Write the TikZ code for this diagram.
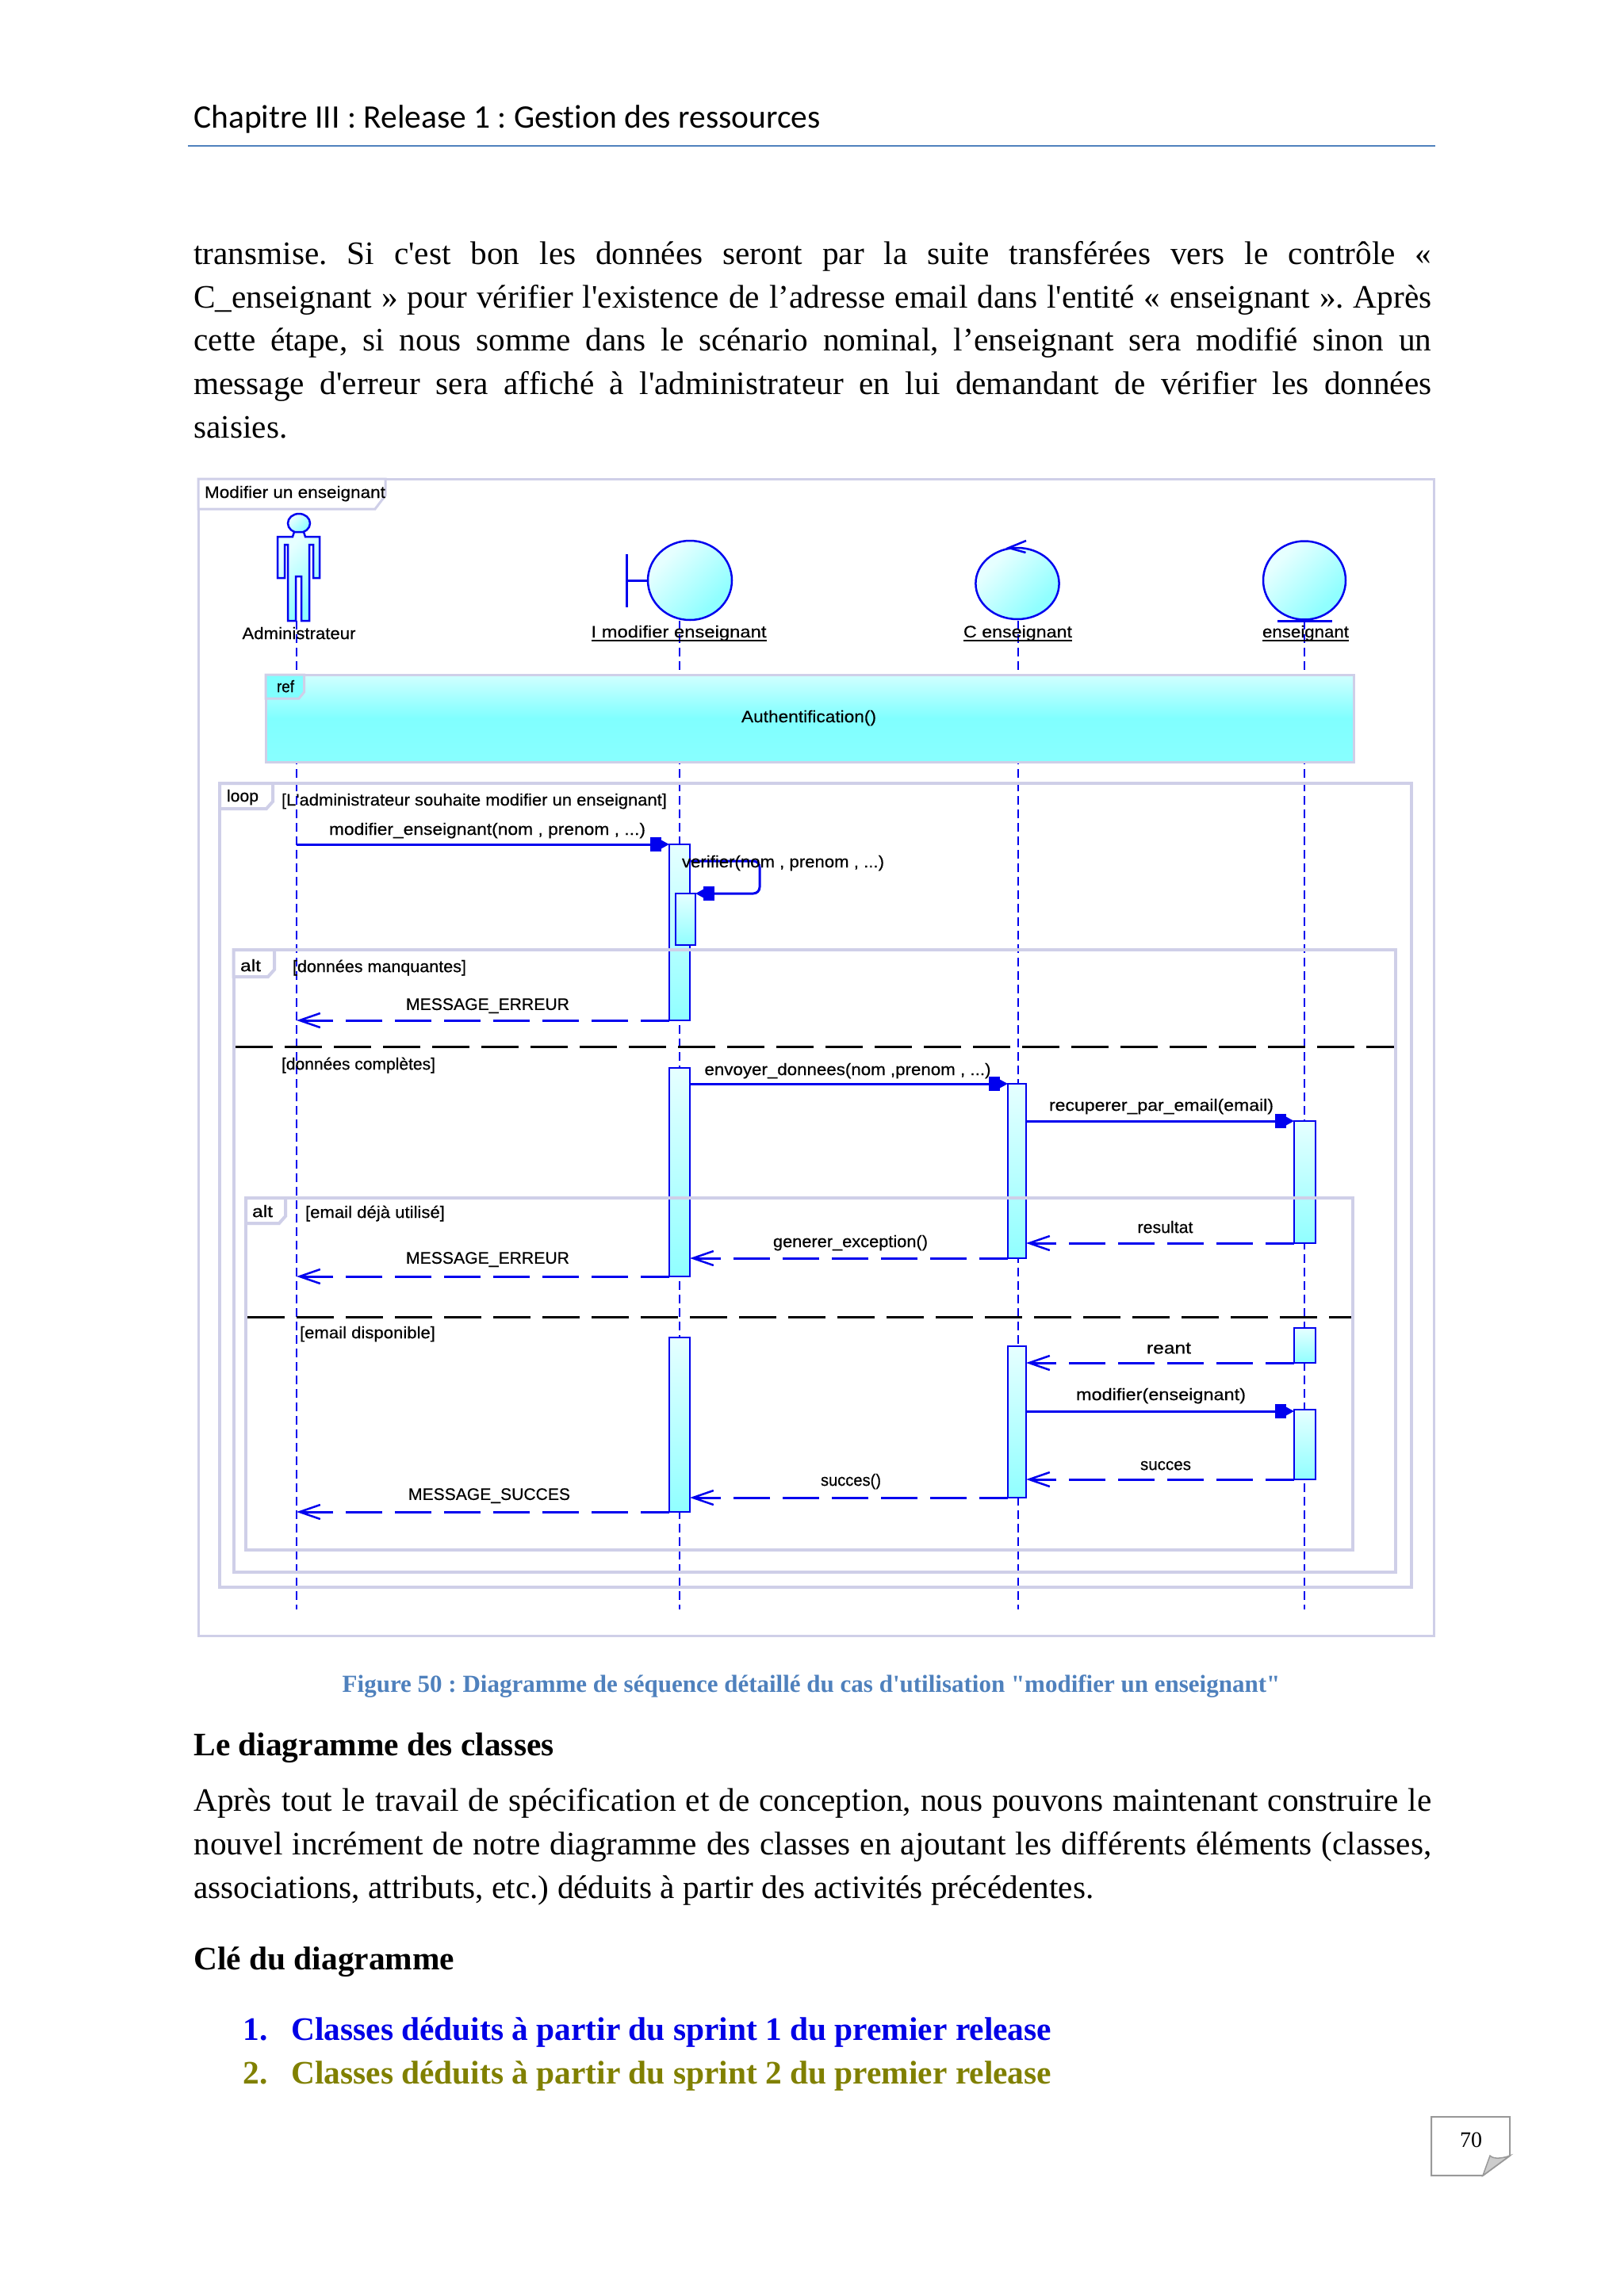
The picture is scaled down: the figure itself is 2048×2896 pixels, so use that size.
\documentclass[tikz,border=0pt]{standalone}
\usepackage{fontspec}
\usepackage{graphicx}
\usetikzlibrary{arrows.meta}
\setmainfont{Liberation Serif}[Ligatures={TeXOff,NoCommon}]
\newfontfamily\dfont{Liberation Sans}[Ligatures={TeXOff,NoCommon},FakeBold=0.4]
\newfontfamily\hfont{Carlito}[Ligatures={TeXOff,NoCommon}]
\frenchspacing
\newlength\px \setlength\px{0.5pt}
\definecolor{umlblue}{HTML}{0000EE}
\definecolor{framecol}{HTML}{CFCFE8}
\definecolor{capblue}{HTML}{4F81BD}
\definecolor{lightc}{HTML}{D2FFFF}
\definecolor{midc}{HTML}{A0FFFF}
\definecolor{deepc}{HTML}{80FFFF}
\definecolor{botc}{HTML}{88FFFF}
\definecolor{iconl}{HTML}{E6FFFF}
\definecolor{icond}{HTML}{90FFFF}
\definecolor{listblue}{HTML}{0000E6}
\definecolor{listolive}{HTML}{808000}
\pgfdeclareverticalshading{refshade}{100bp}{color(0bp)=(botc);color(25bp)=(botc);color(50bp)=(deepc);color(60bp)=(midc);color(75bp)=(lightc);color(100bp)=(lightc)}
\pgfdeclarehorizontalshading{iconshade}{100bp}{color(0bp)=(iconl);color(30bp)=(iconl);color(70bp)=(icond);color(100bp)=(icond)}
\tikzset{
  body/.style={anchor=base west,inner sep=0pt,font=\fontsize{20.64}{24}\selectfont},
  boldline/.style={anchor=base west,inner sep=0pt,font=\bfseries\fontsize{20.7}{24}\selectfont},
  dtext/.style={inner sep=0pt,text=black,yshift=-0.3pt,font=\dfont\fontsize{10.5}{12}\selectfont},
  lifeline/.style={draw=umlblue,line width=1pt,dash pattern=on 5.5pt off 3pt},
  activ/.style={draw=umlblue,line width=1.25pt,top color=iconl,bottom color=icond,inner sep=0pt,outer sep=0pt,anchor=north west},
  iconbody/.style={draw=umlblue,line width=1.25pt,shading=iconshade,shading angle=-45},
  fragment/.style={draw=framecol,line width=2pt,inner sep=0pt,outer sep=0pt,anchor=north west},
  tagbox/.style={draw=framecol,line width=2pt,fill=white},
  sync/.style={draw=umlblue,line width=1.5pt,-{Rectangle[length=7pt,width=9pt]Triangle[length=5pt,width=5pt]}},
  reply/.style={draw=umlblue,line width=1.5pt,dash pattern=on 23pt off 8pt,dash phase=5pt,-{Straight Barb[length=13pt,width=9pt,line width=1.25pt]}},
  sep/.style={draw=black,line width=1.5pt,dash pattern=on 23.5pt off 7.5pt},
}
\newcommand\dlabel[4]{\node[dtext] (#1) at (#2) {\resizebox{#3\px}{\height}{#4}};}
\newcommand\actbox[5]{\node[activ,minimum width={(#4-#2)*0.5pt},minimum height={(#5-#3)*0.5pt}] (#1) at (#2,#3) {};}
\newcommand\fragbox[5]{\node[fragment,minimum width={(#4-#2)*0.5pt},minimum height={(#5-#3)*0.5pt}] (#1) at (#2,#3) {};}
\newcommand\jline[3]{\node[body] (#1) at (244,#2) {\hbox to 780.5pt{#3}};}
\begin{document}
\begin{tikzpicture}[x=0.5pt,y=-0.5pt]
\useasboundingbox[fill=white] (0,0) rectangle (2048,2896);

% header
\node[anchor=base west,inner sep=0pt,font=\hfont\fontsize{20.75}{24}\selectfont] (header) at (244,161) {Chapitre III : Release 1 : Gestion des ressources};
\coordinate (ruleL) at (237,184); \coordinate (ruleR) at (1810,184);
\draw[capblue,line width=1pt] (ruleL) -- (ruleR);

% paragraph above
\jline{p1}{333}{transmise. Si c'est bon les données seront par la suite transférées vers le contrôle «}
\jline{p2}{388}{C\_enseignant » pour vérifier l'existence de l’adresse email dans l'entité « enseignant ». Après}
\jline{p3}{442}{cette étape, si nous somme dans le scénario nominal, l’enseignant sera modifié sinon un}
\jline{p4}{497}{message d'erreur sera affiché à l'administrateur en lui demandant de vérifier les données}
\node[body] (p5) at (244,552) {saisies.};

% outer frame
\node[draw=framecol,line width=1.5pt,inner sep=0pt,outer sep=0pt,anchor=north west,minimum width={1558*0.5pt},minimum height={1459*0.5pt}] (outer) at (250,604) {};
\draw[draw=framecol,line width=1.5pt,fill=white] (250,604) -- (486,604) -- (486,625) -- (473,642) -- (250,642) -- cycle;
\dlabel{title}{372,622}{228}{Modifier un enseignant}

% lifelines
\coordinate (e1) at (374,2030); \coordinate (e2) at (857,2030); \coordinate (e3) at (1283.5,2030); \coordinate (e4) at (1645,2030);
\coordinate (s1) at (374,783); \coordinate (s2) at (857,783); \coordinate (s3) at (1283.5,783); \coordinate (s4) at (1645,783);
\draw[lifeline] (s1) -- (e1);
\draw[lifeline] (s2) -- (e2);
\draw[lifeline] (s3) -- (e3);
\draw[lifeline] (s4) -- (e4);

% actor
\draw[iconbody] (377,660) ellipse (14 and 12);
\draw[iconbody] (371,671) -- (369,677) -- (350,677) -- (350,729) -- (359,729) -- (359,687) -- (363,687) -- (363,783) -- (373,783) -- (373,727) -- (380,727) -- (380,783) -- (390,783) -- (390,687) -- (395,687) -- (395,729) -- (403,729) -- (403,677) -- (385,677) -- (383,671) -- cycle;
\dlabel{actorlab}{377,798}{143}{Administrateur}

% boundary
\draw[iconbody] (870,732) ellipse (53 and 50);
\draw[umlblue,line width=1.5pt] (790,699) -- (790,766);
\draw[umlblue,line width=1.5pt] (790,732) -- (817,732);
\dlabel{bound}{856,798}{221}{I modifier enseignant}
\coordinate (bul) at (746,808); \coordinate (bur) at (967,808);
\draw[black,line width=1.25pt] (bul) -- (bur);

% control
\draw[iconbody] (1283,736) ellipse (52.6 and 45);
\draw[umlblue,line width=1.25pt] (1294,682) -- (1272,691) -- (1293.5,697);
\dlabel{ctrl}{1283.5,798}{137}{C enseignant}
\coordinate (cul) at (1215,808); \coordinate (cur) at (1352,808);
\draw[black,line width=1.25pt] (cul) -- (cur);

% entity
\draw[iconbody] (1645,732) ellipse (52 and 49.5);
\draw[umlblue,line width=1.5pt] (1611,783) -- (1679.5,783);
\dlabel{ent}{1646.5,798}{109}{enseignant}
\coordinate (eul) at (1592,808); \coordinate (eur) at (1701,808);
\draw[black,line width=1.25pt] (eul) -- (eur);

% ref
\node[draw=framecol,line width=1.5pt,shading=refshade,inner sep=0pt,outer sep=0pt,anchor=north west,minimum width={1372*0.5pt},minimum height={110*0.5pt}] (ref) at (335,851) {};
\draw[draw=framecol,line width=1.5pt,fill=deepc] (335,851) -- (383.5,851) -- (383.5,873) -- (377,881) -- (335,881) -- cycle;
\dlabel{reflab}{360,865}{22}{ref}
\dlabel{authlab}{1020,905}{170}{Authentification()}

% activations
\actbox{a1}{844}{1065}{870}{1287}
\actbox{a2}{852}{1127}{877}{1192}
\actbox{a3}{844}{1347}{870}{1610}
\actbox{c1}{1271}{1367}{1294}{1587}
\actbox{d1}{1632}{1414}{1659}{1568}
\actbox{a4}{844}{1687}{870}{1907}
\actbox{c2}{1271}{1698}{1294}{1889}
\actbox{d2}{1632}{1675}{1659}{1719}
\actbox{d3}{1632}{1778}{1659}{1866}

% fragments
\fragbox{loopf}{277}{988}{1780}{2002}
\fragbox{altone}{294.5}{1198}{1760}{1983}
\fragbox{alttwo}{310}{1511}{1705.5}{1955}
\draw[tagbox] (277,988) -- (344,988) -- (344,1011) -- (336,1020) -- (277,1020) -- cycle;
\draw[tagbox] (294.5,1198) -- (346,1198) -- (346,1223) -- (338,1232) -- (294.5,1232) -- cycle;
\draw[tagbox] (310,1511) -- (360,1511) -- (360,1534) -- (352,1543) -- (310,1543) -- cycle;
\dlabel{looplab}{306,1005}{40}{loop}
\dlabel{altlab}{316,1217}{26}{alt}
\dlabel{altlabb}{331,1527}{26}{alt}
\dlabel{guard}{598,1010}{486}{[L'administrateur souhaite modifier un enseignant]}
\dlabel{gmiss}{478.5,1220}{219}{[données manquantes]}
\dlabel{gcomp}{452,1343}{194}{[données complètes]}
\dlabel{gused}{473,1530}{176}{[email déjà utilisé]}
\dlabel{gfree}{463.5,1682}{171}{[email disponible]}

% separators
\coordinate (sa) at (297,1320.7); \coordinate (sb) at (1758,1320.7);
\draw[sep] (sa) -- (sb);
\coordinate (sc) at (312,1661.7); \coordinate (sd) at (1704,1661.7);
\draw[sep] (sc) -- (sd);

% messages
\coordinate (m1s) at (374,1065);
\draw[sync] (m1s) -- (a1.north west);
\dlabel{m1l}{614.5,1047}{399}{modifier\_enseignant(nom , prenom , ...)}

\coordinate (vs) at (870,1086);
\draw[sync,rounded corners=4pt] (vs) -- (958,1086) -- (958,1127) -- (a2.north east);
\dlabel{vlab}{987.5,1088}{255}{verifier(nom , prenom , ...)}

\draw[reply] (a1.south west) -- (m1s |- a1.south west);
\dlabel{merr}{615,1268}{206}{MESSAGE\_ERREUR}

\draw[sync] (a3.east |- c1.north west) -- (c1.north west);
\dlabel{envl}{1069,1350}{361}{envoyer\_donnees(nom ,prenom , ...)}

\draw[sync] (c1.east |- d1.north west) -- (d1.north west);
\dlabel{recl}{1464.5,1395}{283}{recuperer\_par\_email(email)}

\draw[reply] (d1.south west) -- (c1.east |- d1.south west);
\dlabel{resl}{1469.5,1547}{70}{resultat}

\draw[reply] (c1.south west) -- (a3.east |- c1.south west);
\dlabel{genl}{1072.5,1567}{195}{generer\_exception()}

\draw[reply] (a3.south west) -- (m1s |- a3.south west);
\dlabel{merrb}{615,1588}{206}{MESSAGE\_ERREUR}

\draw[reply] (d2.south west) -- (c2.east |- d2.south west);
\dlabel{trt}{1474,1700}{56}{reant}

\coordinate (modc) at (1632,1780);
\draw[sync] (c2.east |- modc) -- (modc);
\dlabel{modl}{1464,1760}{214}{modifier(enseignant)}

\draw[reply] (d3.south west) -- (c2.east |- d3.south west);
\dlabel{sucl}{1470,1848}{64}{succes}

\draw[reply] (c2.south west) -- (a4.east |- c2.south west);
\dlabel{sucb}{1073,1868}{76}{succes()}

\draw[reply] (a4.south west) -- (m1s |- a4.south west);
\dlabel{msuc}{617,1886}{204}{MESSAGE\_SUCCES}

% caption
\node[inner sep=0pt,anchor=base,text=capblue,font=\bfseries\fontsize{15.5}{20}\selectfont] (caption) at (1023,2134) {Figure 50 : Diagramme de séquence détaillé du cas d'utilisation "modifier un enseignant"};

% lower text
\node[boldline] (h1) at (244,2214) {Le diagramme des classes};
\jline{q1}{2284}{Après tout le travail de spécification et de conception, nous pouvons maintenant construire le}
\jline{q2}{2339}{nouvel incrément de notre diagramme des classes en ajoutant les différents éléments (classes,}
\node[body] (q3) at (244,2394) {associations, attributs, etc.) déduits à partir des activités précédentes.};
\node[boldline] (h2) at (244,2484) {Clé du diagramme};
\node[boldline,text=listblue] (n1) at (306,2573) {1.};
\node[boldline,text=listblue] (l1) at (367,2573) {Classes déduits à partir du sprint 1 du premier release};
\node[boldline,text=listolive] (n2) at (306,2628) {2.};
\node[boldline,text=listolive] (l2) at (367,2628) {Classes déduits à partir du sprint 2 du premier release};

% page number
\draw[draw=black!40,line width=1pt,fill=white] (1805,2670) -- (1904,2670) -- (1904,2719) -- (1870,2744) -- (1805,2744) -- cycle;
\draw[draw=black!40,line width=0.75pt,fill=black!20] (1870,2744) -- (1879,2719) .. controls (1884,2724) and (1896,2722) .. (1904,2719) -- cycle;
\node[inner sep=0pt,font=\fontsize{14}{18}\selectfont] (pageno) at (1855,2699) {70};
\end{tikzpicture}
\end{document}
